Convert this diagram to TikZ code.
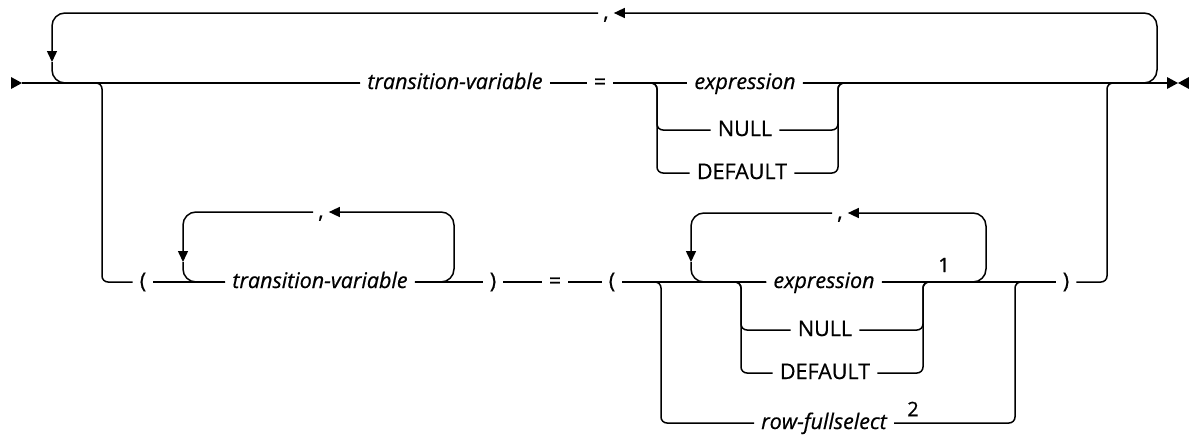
\documentclass[tikz,border=0pt]{standalone}
\usepackage{fontspec}
\setmainfont{Open Sans}[FakeBold=0.6]
\usetikzlibrary{arrows.meta}

\begin{document}
\begin{tikzpicture}[x=1pt, y=-1pt,
  rail/.style={line width=1.5pt, rounded corners=6pt},
  loopline/.style={line width=1.5pt, rounded corners=13pt},
  tip/.style={-{Triangle[length=11pt,width=10pt]}},
  word/.style={inner xsep=7pt, inner ysep=0pt, text height=12pt,
    text depth=0pt, font=\fontsize{21.5}{24}\selectfont},
  var/.style={word, font=\fontsize{21.5}{24}\selectfont\itshape},
  note/.style={inner sep=0pt, font=\fontsize{20}{22}\selectfont},
]
\useasboundingbox (0,0) rectangle (1189,434);

% Top row
\coordinate (start) at (22,83);
\coordinate (stop) at (1167,83);
\node[var] (tv1) at (455,83) {transition-variable};
\node[word] (eq1) at (600,83) {=};
\node[var] (expr1) at (745,83) {expression};
\node[word] (null1) at (745,130) {NULL};
\node[word] (def1) at (742,173) {DEFAULT};
\node[word, inner xsep=5pt] (comma1) at (606,13) {,};

% Bottom row
\node[word] (lp1) at (143,282) {(};
\node[var] (tv2) at (320,282) {transition-variable};
\node[word, inner xsep=5pt] (comma2) at (321,212) {,};
\node[word] (rp1) at (493,282) {)};
\node[word] (eq2) at (555,282) {=};
\node[word] (lp2) at (612,282) {(};
\node[var] (expr2) at (824,282) {expression};
\node[note] (n1) at (944,265) {1};
\node[word] (null2) at (825,330) {NULL};
\node[word] (def2) at (825,373) {DEFAULT};
\node[var] (rowfs) at (824,423) {row-fullselect};
\node[note] (n2) at (913,409) {2};
\node[word, inner xsep=5pt] (comma3) at (840,213) {,};
\node[word] (rp2) at (1066,282) {)};

% Start and end marks
\fill (start) ++(-11,-6) -- ++(11,6) -- ++(-11,6) -- cycle;
\fill (stop) ++(0,-6) -- ++(11,6) -- ++(-11,6) -- cycle;
\fill (stop) ++(22,-6) -- ++(-11,6) -- ++(11,6) -- cycle;

% Main line
\draw[rail] (start) -- (tv1.west);
\draw[rail] (tv1.east) -- (eq1.west);
\draw[rail] (eq1.east) -- (expr1.west);
\draw[rail] (expr1.east) -- (stop);
\draw[rail] (eq1.east) -| (657,130) -- (null1.west);
\draw[rail] (eq1.east) -| (657,173) -- (def1.west);
\draw[rail] (null1.east) -| (838,83) -- (stop);
\draw[rail] (def1.east) -| (838,83) -- (stop);

% Repeat loop
\coordinate (back1) at (52,62);
\draw[loopline, tip] (expr1.east) -| (1157,13) -- (comma1.east);
\draw[loopline, tip] (comma1.west) -| (back1);
\draw[loopline] (back1) |- (tv1.west);

% Second form
\draw[rail] (start) -| (102,282) -- (lp1.west);
\draw[rail] (lp1.east) -- (tv2.west);
\draw[rail] (tv2.east) -- (rp1.west);
\draw[rail] (rp1.east) -- (eq2.west);
\draw[rail] (eq2.east) -- (lp2.west);
\draw[rail] (lp2.east) -- (expr2.west);
\draw[rail] (expr2.east) -- (rp2.west);
\draw[rail] (rp2.east) -| (1107,83) -- (stop);

\coordinate (back2) at (183,262);
\draw[loopline, tip] (tv2.east) -| (454,212) -- (comma2.east);
\draw[loopline, tip] (comma2.west) -| (back2);
\draw[loopline] (back2) |- (tv2.west);

\draw[rail] (lp2.east) -| (741,330) -- (null2.west);
\draw[rail] (lp2.east) -| (741,373) -- (def2.west);
\draw[rail] (null2.east) -| (923,282) -- (rp2.west);
\draw[rail] (def2.east) -| (923,282) -- (rp2.west);
\draw[rail] (lp2.east) -| (661,423) -- (rowfs.west);
\draw[rail] (rowfs.east) -| (1015,282) -- (rp2.west);

\coordinate (back3) at (691,262);
\draw[loopline, tip] (expr2.east) -| (986,213) -- (comma3.east);
\draw[loopline, tip] (comma3.west) -| (back3);
\draw[loopline] (back3) |- (expr2.west);
\end{tikzpicture}
\end{document}
